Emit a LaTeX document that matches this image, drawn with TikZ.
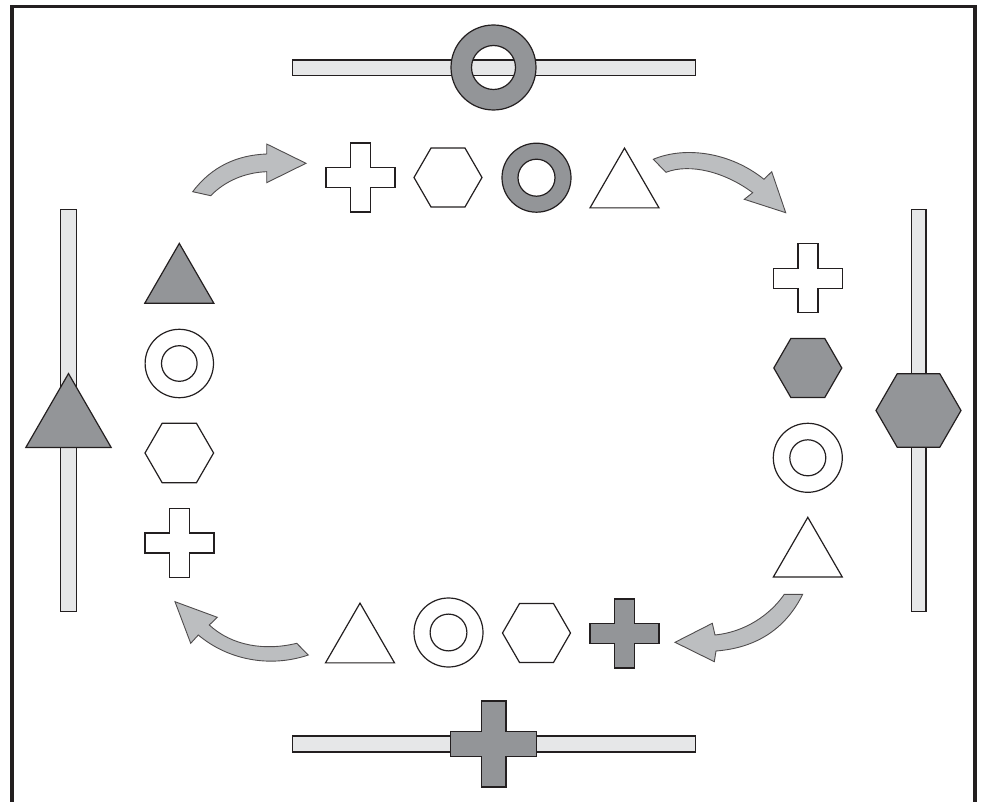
\documentclass[tikz,border=0pt]{standalone}
\usetikzlibrary{calc}
\definecolor{barfill}{HTML}{E6E7E8}
\definecolor{darkfill}{HTML}{939598}
\definecolor{arrowfill}{HTML}{BCBEC0}
\definecolor{ink}{HTML}{231F20}
\tikzset{
  outl/.style={draw=ink,line width=1.2pt,line join=miter},
  openshape/.style={outl,fill=white},
  darkshape/.style={outl,fill=darkfill},
  barshape/.style={outl,fill=barfill},
  bentarrow/.style={draw=ink!80,line width=0.9pt,fill=arrowfill,line join=miter},
  crossline/.style={line width=1.4pt}
}
% cross: x, y, half size, half arm, style
\newcommand\mycross[5]{%
  \draw[#5] ({#1-#4},{#2-#3}) -- ({#1+#4},{#2-#3}) -- ({#1+#4},{#2-#4}) -- ({#1+#3},{#2-#4})
    -- ({#1+#3},{#2+#4}) -- ({#1+#4},{#2+#4}) -- ({#1+#4},{#2+#3}) -- ({#1-#4},{#2+#3})
    -- ({#1-#4},{#2+#4}) -- ({#1-#3},{#2+#4}) -- ({#1-#3},{#2-#4}) -- ({#1-#4},{#2-#4}) -- cycle;}
% hexagon: x, y, circumradius, style
\newcommand\myhex[4]{%
  \draw[#4] ({#1+#3},{#2}) -- ({#1+#3/2},{#2-0.866*#3}) -- ({#1-#3/2},{#2-0.866*#3})
    -- ({#1-#3},{#2}) -- ({#1-#3/2},{#2+0.866*#3}) -- ({#1+#3/2},{#2+0.866*#3}) -- cycle;}
% triangle: x, bbox centre y, side, style
\newcommand\mytri[4]{%
  \draw[#4] ({#1},{#2-0.433*#3}) -- ({#1+#3/2},{#2+0.433*#3}) -- ({#1-#3/2},{#2+0.433*#3}) -- cycle;}
% ring: x, y, outer r, inner r, style
\newcommand\myring[5]{%
  \draw[#5,even odd rule] (#1,#2) circle[radius=#3] (#1,#2) circle[radius=#4];}
\begin{document}
\begin{tikzpicture}[x=1pt,y=-1pt]
\useasboundingbox (0,0) rectangle (983,802);
% frame (open at the bottom)
\draw[ink,line width=3.2pt] (12,802) -- (12,6.5) -- (975,6.5) -- (975,802);

% bars
\draw[barshape] (292.5,60) rectangle (695.5,75.5);
\draw[barshape] (292.5,736) rectangle (695.5,752);
\draw[barshape] (60.7,209.3) rectangle (76.3,611.7);
\draw[barshape] (911.3,209.3) rectangle (926,611.7);

% big shapes on the bars
\myring{493.5}{67.5}{42.5}{22}{darkshape}
\mycross{493.7}{744}{43}{12.3}{darkshape,crossline}
\mytri{68.5}{410.5}{85.3}{darkshape}
\myhex{918.5}{410.5}{42.5}{darkshape}

% top row
\mycross{360.5}{177.5}{34.5}{10}{openshape,crossline}
\myhex{448}{177.5}{34}{openshape}
\myring{536.5}{177.7}{34.5}{18.5}{darkshape}
\mytri{624.5}{178}{69}{openshape}

% right column
\mycross{807.8}{278.3}{34.5}{10}{openshape,crossline}
\myhex{807.8}{368}{34}{darkshape}
\myring{807.8}{457.8}{34.5}{18}{outl}
\mytri{807.8}{547.2}{69}{openshape}

% bottom row
\mytri{360}{633}{69}{openshape}
\myring{448.5}{632.5}{34.5}{18.4}{outl}
\myhex{536.5}{633}{34}{openshape}
\mycross{624.5}{633.5}{34.5}{10}{darkshape,crossline}

% left column
\mytri{179.3}{273.3}{69}{darkshape}
\myring{179.3}{363.5}{34.2}{17.8}{outl}
\myhex{179.3}{453}{34.3}{openshape}
\mycross{179.3}{542.8}{34.5}{10}{openshape,crossline}

% curved block arrows
\draw[bentarrow] (192.7,191.7) .. controls (212,166) and (238,155) .. (266.7,154)
  -- (266.7,144) -- (306,163.3) -- (266.7,182.7) -- (266.7,171.7)
  .. controls (245,172.5) and (225,181) .. (210.7,195.7) -- cycle;
\draw[bentarrow] (653.3,159.3) .. controls (685,146) and (730,152) .. (764,179.3)
  -- (771.7,171.7) -- (785.7,212.7) -- (744.3,199.3) -- (752.7,192.7)
  .. controls (725,172) and (690,163) .. (666,172.3) -- cycle;
\draw[bentarrow] (802.7,594.3) .. controls (785,630) and (755,648) .. (716,651)
  -- (714.3,661.7) -- (675,642.3) -- (712.3,623.3) -- (715,635)
  .. controls (745,632) and (770,615) .. (784.3,594.3) -- cycle;
\draw[bentarrow] (175,601.7) -- (217.3,617.3) -- (209.3,625)
  .. controls (232,646) and (265,651) .. (296.7,643.3) -- (308.3,655)
  .. controls (270,668) and (228,660) .. (198.3,635) -- (190.7,643.3) -- cycle;
\end{tikzpicture}
\end{document}
